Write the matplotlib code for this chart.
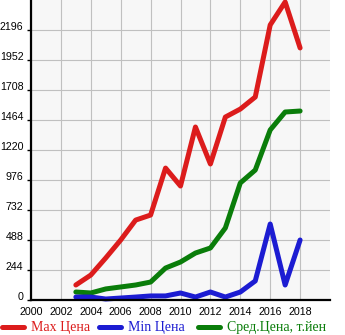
import matplotlib
matplotlib.use("Agg")
import matplotlib.pyplot as plt
from matplotlib.lines import Line2D

years = list(range(2003, 2019))
max_price = [122, 203, 342, 488, 650, 691, 1073, 927, 1407, 1106, 1488, 1553, 1651, 2237, 2424, 2050]
min_price = [24, 24, 8, 16, 24, 33, 33, 57, 24, 65, 24, 65, 155, 618, 122, 488]
avg_price = [65, 57, 90, 106, 122, 146, 260, 309, 382, 423, 586, 952, 1057, 1383, 1529, 1537]

series_labels = ["Max Цена", "Min Цена", "Сред.Цена, т.йен"]
series_colors = ["#dc1c1c", "#1c1cd2", "#0a7d0a"]

x_ticks = list(range(2000, 2019, 2))
y_ticks = [0, 244, 488, 732, 976, 1220, 1464, 1708, 1952, 2196]

W, H = 345, 335
fig = plt.figure(figsize=(W / 100, H / 100), dpi=100)
fig.patch.set_facecolor("white")
ax = fig.add_axes([31 / W, 1 - 300 / H, (330 - 31) / W, 300 / H])
ax.set_facecolor("#f7f7f7")

ax.set_xlim(2000, 2020)
ax.set_ylim(0, 2440)

ax.set_xticks(x_ticks)
ax.set_xticklabels([str(t) for t in x_ticks])
ax.set_yticks(y_ticks)
ax.set_yticklabels([str(t) for t in y_ticks])

tick_font = dict(family="Liberation Sans", size=7.7)
for lab in ax.get_xticklabels():
    lab.set_fontproperties(matplotlib.font_manager.FontProperties(**tick_font))
for lab in ax.get_yticklabels():
    lab.set_fontproperties(matplotlib.font_manager.FontProperties(**tick_font))
    lab.set_verticalalignment("baseline")

ax.tick_params(axis="x", length=0, pad=5)
ax.tick_params(axis="y", length=3, width=1, pad=2.5, color="black")

ax.grid(True, color="#c0c0c0", linewidth=0.8)
ax.set_axisbelow(True)

for side in ("top", "right"):
    ax.spines[side].set_visible(False)
for side in ("left", "bottom"):
    ax.spines[side].set_linewidth(1.6)
    ax.spines[side].set_color("black")

line_kw = dict(linewidth=3.6, solid_capstyle="round", solid_joinstyle="round", clip_on=False)
ax.plot(years, avg_price, color=series_colors[2], **line_kw)
ax.plot(years, min_price, color=series_colors[1], **line_kw)
ax.plot(years, max_price, color=series_colors[0], **line_kw)

# legend row along the bottom of the figure
legend_y = 1 - 327 / H
starts = [2, 99, 198]
for x0, lab, col in zip(starts, series_labels, series_colors):
    fig.add_artist(Line2D([x0 / W, (x0 + 22) / W], [legend_y, legend_y],
                          color=col, linewidth=3.6, solid_capstyle="round"))
    fig.text((x0 + 29) / W, legend_y, lab, color=col, family="Liberation Serif",
             size=10, va="center", ha="left")

fig.savefig("out.png", dpi=100)
